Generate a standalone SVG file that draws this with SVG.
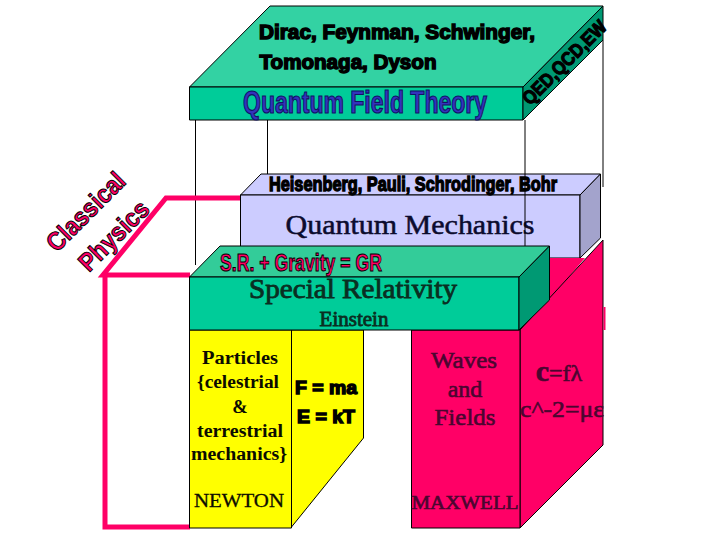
<svg xmlns="http://www.w3.org/2000/svg" width="720" height="540" viewBox="0 0 720 540">
<style>
.e{stroke:#000;stroke-width:1;stroke-linejoin:round}
.l{fill:none;stroke:#000;stroke-width:1}
.p{fill:none;stroke:#ff0066;stroke-width:5}
.s{font-family:"Liberation Serif",serif}
.b{font-family:"Liberation Sans",sans-serif;font-weight:bold}
.k{fill:#000;stroke:#000;stroke-width:1.400}
.r{fill:#ff0066;stroke:#000;stroke-width:1}
.d{fill:#4a0630;stroke:#4a0630;stroke-width:.6}
.g{fill:#0a2e22;stroke:#0a2e22;stroke-width:.8}
text{text-anchor:middle}
</style>
<rect width="720" height="540" fill="#fff"/>
<g id="connectors">
<path class="l" d="M195.500 120V265M267.500 120V174M525 120V265M603 40V187"/>
<path class="p" d="M243 198H166L103 275H190M105 275V527H190"/>
</g>
<g id="quantum-mechanics">
<path class="e" fill="#ccccff" d="M240.500 195L261 174H600.500L580 195Z"/>
<rect class="e" fill="#ccccff" x="240.500" y="195" width="339.500" height="63"/>
<path class="e" fill="#a3a3cc" d="M580 195L600.500 174V238L580 258Z"/>
<text class="b k" x="413" y="191" font-size="21" stroke-width="1.500" textLength="288" lengthAdjust="spacingAndGlyphs">Heisenberg, Pauli, Schrodinger, Bohr</text>
<text class="s" x="410" y="234" font-size="26.500" fill="#0b0b2e" stroke="#0b0b2e" stroke-width=".5" textLength="249" lengthAdjust="spacingAndGlyphs">Quantum Mechanics</text>
<path class="l" d="M525 174V265"/>
</g>
<g id="maxwell">
<path fill="#ff0066" d="M549.500 258H585L549.500 300Z"/>
<path class="e" fill="#ff0066" d="M520 330L603 240V445L520 528Z"/>
<rect class="e" fill="#ff0066" x="411.500" y="330" width="108.500" height="198"/>
<path d="M604.500 307V330" stroke="#ff0066" stroke-width="2"/>
<g class="s d" font-size="24">
<text x="464" y="368" textLength="66" lengthAdjust="spacingAndGlyphs">Waves</text>
<text x="465" y="397">and</text>
<text x="465" y="425" textLength="61" lengthAdjust="spacingAndGlyphs">Fields</text>
<text x="465" y="509" font-size="19" textLength="107" lengthAdjust="spacingAndGlyphs">MAXWELL</text>
<text x="559" y="381" font-size="24"><tspan font-weight="bold" font-size="30">c</tspan>=fλ</text>
<text x="562" y="417" font-size="24" textLength="84" lengthAdjust="spacingAndGlyphs">c^-2=με</text>
</g>
</g>
<g id="newton">
<rect class="e" fill="#ffff00" x="189.500" y="330" width="102" height="198"/>
<path class="e" fill="#ffff00" d="M291.500 330H363.500V438L291.500 527Z"/>
<g class="s" font-size="18.500" font-weight="bold" fill="#0c0c00">
<text x="240" y="364" textLength="76" lengthAdjust="spacingAndGlyphs">Particles</text>
<text x="238" y="388" textLength="82" lengthAdjust="spacingAndGlyphs">{celestrial</text>
<text x="240" y="413">&amp;</text>
<text x="240" y="437" textLength="86" lengthAdjust="spacingAndGlyphs">terrestrial</text>
<text x="239" y="460" textLength="96" lengthAdjust="spacingAndGlyphs">mechanics}</text>
<text x="239" y="507" font-weight="normal" stroke="#0c0c00" stroke-width=".3" textLength="90" lengthAdjust="spacingAndGlyphs">NEWTON</text>
</g>
<g class="b k" font-size="18.500" stroke-width="2.400">
<text x="326" y="394" textLength="62" lengthAdjust="spacingAndGlyphs">F = ma</text>
<text x="326" y="423" textLength="58" lengthAdjust="spacingAndGlyphs">E = kT</text>
</g>
</g>
<g id="special-relativity">
<path class="e" fill="#33cc99" d="M189.500 277L220 246H549.500L519 277Z"/>
<rect class="e" fill="#00cc99" x="189.500" y="277" width="329.500" height="53"/>
<path class="e" fill="#009973" d="M519 277L549.500 246V300L519 330Z"/>
<text class="b r" x="301" y="271" font-size="24" stroke-width="1.200" textLength="162" lengthAdjust="spacingAndGlyphs">S.R. + Gravity = GR</text>
<text class="s g" x="353" y="298" font-size="27" textLength="208" lengthAdjust="spacingAndGlyphs">Special Relativity</text>
<text class="s g" x="354" y="326" font-size="21">Einstein</text>
</g>
<g id="quantum-field-theory">
<path class="e" fill="#33d2a3" d="M189.500 87L270 6H603L523 87Z"/>
<rect class="e" fill="#00cc99" x="189.500" y="87" width="333.500" height="33"/>
<path class="e" fill="#009973" d="M523 87L603 6V40L523 120Z"/>
<g class="b k" font-size="19.500" stroke-width="1.500">
<text x="397" y="39" textLength="276" lengthAdjust="spacingAndGlyphs">Dirac, Feynman, Schwinger,</text>
<text x="348" y="69" textLength="177" lengthAdjust="spacingAndGlyphs">Tomonaga, Dyson</text>
<text transform="translate(569 67) rotate(-45)" font-size="19" stroke-width="1.200" textLength="110" lengthAdjust="spacingAndGlyphs">QED,QCD,EW</text>
</g>
<text class="b" x="365" y="113" font-size="31" fill="#3333bb" stroke="#111166" stroke-width="1.200" textLength="244" lengthAdjust="spacingAndGlyphs">Quantum Field Theory</text>
</g>
<g id="classical-physics" class="b r" font-size="26" stroke-width="1.300">
<text transform="translate(92 218) rotate(-45)" textLength="100" lengthAdjust="spacingAndGlyphs">Classical</text>
<text transform="translate(120 242) rotate(-45)" textLength="88" lengthAdjust="spacingAndGlyphs">Physics</text>
</g>
</svg>
